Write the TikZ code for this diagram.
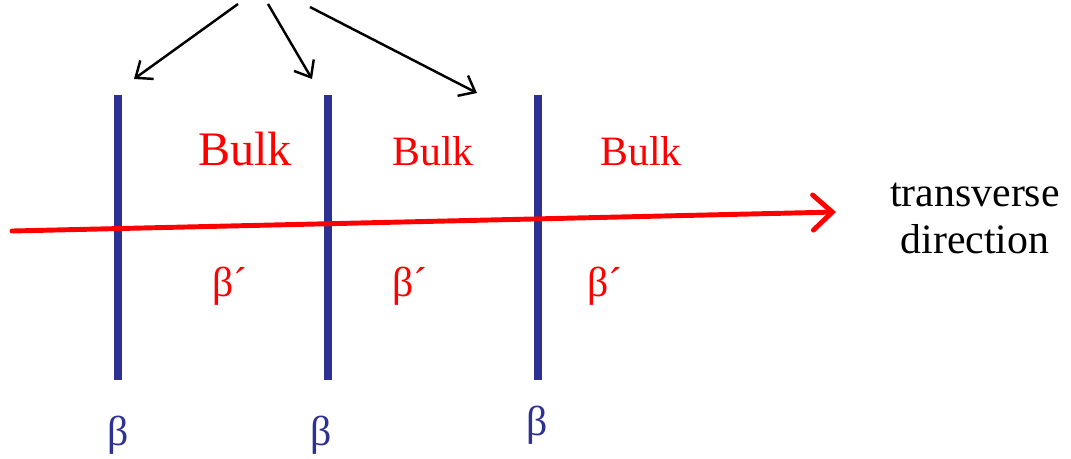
\documentclass[tikz,border=0pt]{standalone}
\usepackage{fontspec}
\setmainfont{Liberation Serif}
\usetikzlibrary{arrows.meta,positioning}
\definecolor{wallblue}{HTML}{2E3192}
\definecolor{bulkred}{HTML}{FF0000}

\begin{document}
\begin{tikzpicture}[x=0.02cm, y=-0.02cm,
    wall/.style={line width=4.5pt, draw=wallblue},
    axis/.style={line width=2.8pt, draw=bulkred, line cap=round,
      -{Straight Barb[length=11pt, width=20pt, line cap=round]}},
    pointer/.style={line width=1.4pt, -{Straight Barb[length=8pt, width=13pt]}},
    bulklabel/.style={text=bulkred, inner sep=0pt, anchor=base, font=\rmfamily\fontsize{23.8}{26}\selectfont},
    wallbeta/.style={text=wallblue, inner sep=0pt, anchor=base, font=\rmfamily\fontsize{23.8}{26}\selectfont}]
    \useasboundingbox (0,0) rectangle (1071,458);
    % the three walls
    \coordinate (w1top) at (118,95);  \coordinate (w1bot) at (118,380);
    \coordinate (w2top) at (328,95);  \coordinate (w2bot) at (328,380);
    \coordinate (w3top) at (538,95);  \coordinate (w3bot) at (538,380);
    \draw[wall] (w1top) -- (w1bot);
    \draw[wall] (w2top) -- (w2bot);
    \draw[wall] (w3top) -- (w3bot);
    % transverse axis
    \coordinate (axstart) at (12,231);
    \coordinate (axend) at (836,212);
    \draw[axis] (axstart) -- (axend);
    \node[anchor=base, inner sep=0pt, align=center, font=\rmfamily\fontsize{23.8}{26.2}\selectfont] (dir) at (975,253) {transverse\\direction};
    % labels
    \node[bulklabel, font=\rmfamily\fontsize{27.4}{30}\selectfont] (bulk1) at (245,165) {Bulk};
    \node[bulklabel] (bulk2) at (433,165) {Bulk};
    \node[bulklabel] (bulk3) at (641,165) {Bulk};
    \node[bulklabel] (bp1) at (230,296) {β´};
    \node[bulklabel] (bp2) at (410,296) {β´};
    \node[bulklabel] (bp3) at (605,296) {β´};
    \node[wallbeta] (b1) at (118,445) {β};
    \node[wallbeta] (b2) at (321,445) {β};
    \node[wallbeta] (b3) at (537,435) {β};
    % pointers to the walls
    \coordinate (src1) at (238,4);  \coordinate (tip1) at (134,79);
    \coordinate (src2) at (268,4);  \coordinate (tip2) at (312,79);
    \coordinate (src3) at (310,7);  \coordinate (tip3) at (477,93);
    \draw[pointer] (src1) -- (tip1);
    \draw[pointer] (src2) -- (tip2);
    \draw[pointer] (src3) -- (tip3);
\end{tikzpicture}
\end{document}
